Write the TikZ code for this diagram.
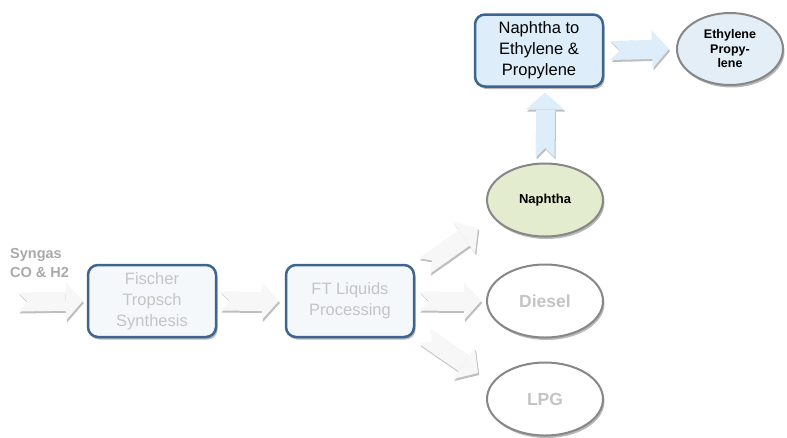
\documentclass[tikz,border=0pt]{standalone}
\usepackage{fontspec}
\setmainfont{Liberation Sans}
\usetikzlibrary{arrows.meta,shadows,shapes.geometric}

\definecolor{boxedge}{HTML}{3E6590}
\definecolor{paleblue}{HTML}{DDEEFA}
\definecolor{palebox}{HTML}{F5F8FB}
\definecolor{ovaledge}{HTML}{878787}
\definecolor{naphfill}{HTML}{E4ECCF}
\definecolor{ethfill}{HTML}{E3EEF7}
\definecolor{fadedtext}{HTML}{C4C4C4}
\definecolor{feedtext}{HTML}{A9A9A9}
\definecolor{flowfill}{HTML}{F7F7F7}

\begin{document}
\begin{tikzpicture}[x=1pt,y=-1pt,
  softshadow/.style={drop shadow={shadow xshift=1.5pt,shadow yshift=-2.5pt,fill=black,opacity=0.28}},
  procbox/.style={draw=boxedge,line width=2.5pt,rounded corners=10pt,
    minimum width=128pt,minimum height=72pt,inner sep=0pt,align=center,
    font=\fontsize{16.5}{21}\selectfont,softshadow},
  product/.style={ellipse,draw=ovaledge,line width=2pt,minimum width=116pt,
    minimum height=73pt,inner sep=0pt,align=center,softshadow},
  flow/.style={line width=19pt,draw=#1,
    preaction={draw=gray!50,line width=19pt,
      transform canvas={shift={(1.2pt,-2pt)}},
      {Triangle Cap[reversed]}-{Triangle[length=17pt,width=38pt,line width=0pt]}},
    {Triangle Cap[reversed]}-{Triangle[length=17pt,width=38pt,line width=0pt]}},
  flow/.default=flowfill
]
\useasboundingbox (0,0) rectangle (787,437);

% feed label and entry point
\node[anchor=north west,inner sep=0pt,align=left,text=feedtext,
  font=\fontsize{14.5}{19.5}\selectfont\bfseries] (syngas) at (10,248)
  {Syngas\\CO \& H2};
\coordinate (feed) at (18,302);

% process blocks
\node[procbox,fill=palebox,text=fadedtext] (fts) at (152,301)
  {Fischer\\Tropsch\\Synthesis};
\node[procbox,fill=palebox,text=fadedtext] (ftl) at (350,301)
  {FT Liquids\\Processing};
\node[procbox,fill=paleblue,text=black] (crack) at (539,50.5)
  {Naphtha to\\Ethylene \&\\Propylene};

% products
\node[product,fill=naphfill,font=\fontsize{13}{15}\selectfont\bfseries]
  (naph) at (545,200) {Naphtha};
\node[product,fill=white,text=fadedtext,font=\fontsize{17.5}{20}\selectfont\bfseries]
  (dsl) at (545,301) {Diesel};
\node[product,fill=white,text=fadedtext,font=\fontsize{17.5}{20}\selectfont\bfseries]
  (lpg) at (545,399) {LPG};
\node[product,fill=ethfill,minimum width=106pt,minimum height=72pt,
  font=\fontsize{12.5}{14.5}\selectfont\bfseries]
  (eth) at (730,49) {Ethylene\\Propy-\\lene};

% flow arrows
\draw[flow] (feed) -- ([xshift=-4pt]fts.west);
\draw[flow] ([xshift=3pt]fts.east) -- ([xshift=-6pt]ftl.west);
\draw[flow] ([shift={(9pt,35pt)}]ftl.east) -- ([shift={(-8pt,-28pt)}]naph.west);
\draw[flow] ([xshift=4pt]ftl.east) -- ([xshift=-5pt]dsl.west);
\draw[flow] ([shift={(9pt,-35pt)}]ftl.east) -- ([shift={(-8pt,26pt)}]lpg.west);
\draw[flow=paleblue] ([yshift=5pt]naph.north) -- ++(0,-65);
\draw[flow=paleblue] ([xshift=6pt]crack.east) -- ([xshift=-7pt]eth.west);
\end{tikzpicture}
\end{document}
